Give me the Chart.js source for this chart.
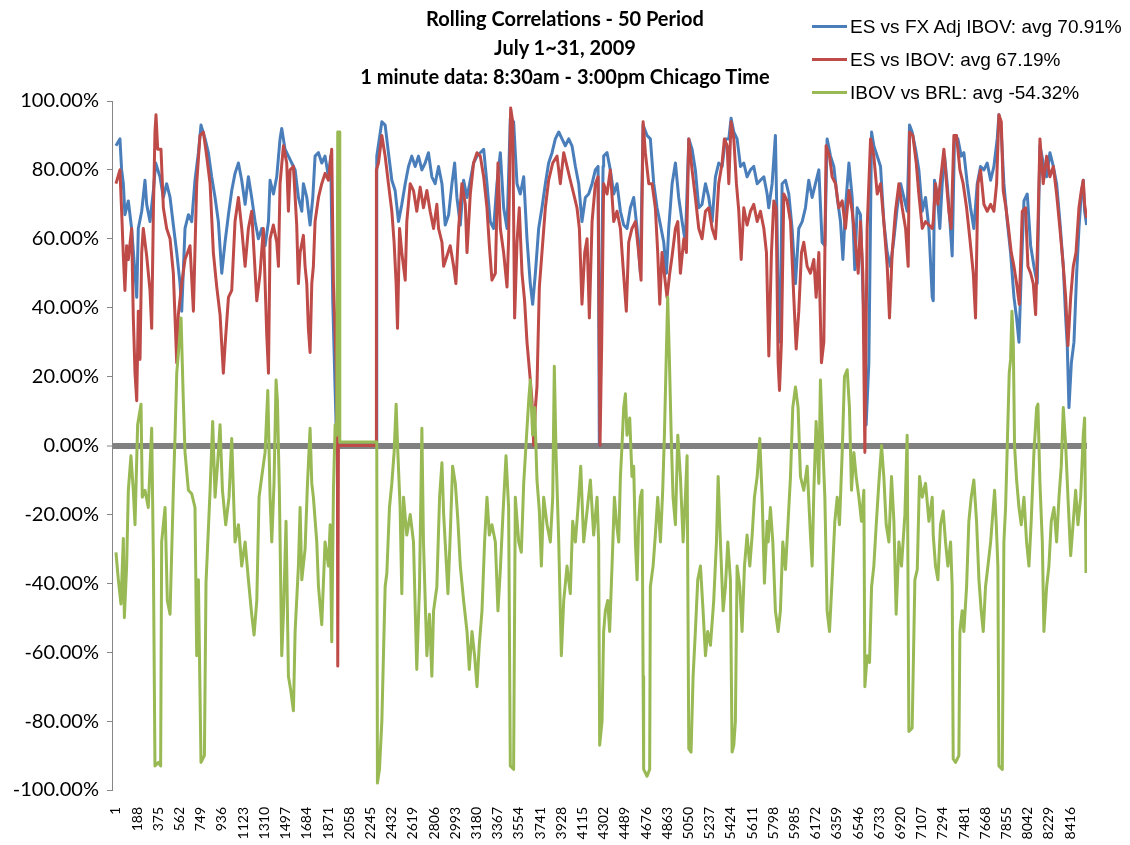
<!DOCTYPE html>
<html>
<head>
<meta charset="utf-8">
<title>Rolling Correlations - 50 Period</title>
<script src="https://cdn.jsdelivr.net/npm/chart.js@4.4.1/dist/chart.umd.min.js"></script>
<style>
  html, body { margin: 0; padding: 0; background: #fff; }
  #wrap { position: relative; width: 1130px; height: 845px; }
  #title {
    position: absolute; left: 0; top: 4px; width: 1130px;
    text-align: center; font-family: Lato; font-weight: bold;
    font-size: 20px; line-height: 29px; color: #000;
  }
  #legend { position: absolute; left: 812px; top: 10px; font-family: "Liberation Sans"; font-size: 19px; color: #000; }
  .item { display: flex; align-items: center; height: 33px; white-space: nowrap; }
  .swatch { width: 35px; height: 3px; margin-right: 3px; }
</style>
</head>
<body>
<div id="wrap">
  <canvas id="chart" width="1130" height="845"></canvas>
  <div id="title"></div>
  <div id="legend"></div>
</div>
<script>
// titles and series names
var titleLines = ['Rolling Correlations - 50 Period', 'July 1~31, 2009', '1 minute data: 8:30am - 3:00pm Chicago Time'];
var seriesNames = ['ES vs FX Adj IBOV: avg 70.91%', 'ES vs IBOV: avg 67.19%', 'IBOV vs BRL: avg -54.32%'];

// category labels shown on the x axis (every 187th minute)
var xTickLabels = [1, 188, 375, 562, 749, 936, 1123, 1310, 1497, 1684, 1871, 2058, 2245, 2432, 2619, 2806, 2993,
  3180, 3367, 3554, 3741, 3928, 4115, 4302, 4489, 4676, 4863, 5050, 5237, 5424, 5611, 5798, 5985, 6172,
  6359, 6546, 6733, 6920, 7107, 7294, 7481, 7668, 7855, 8042, 8229, 8416];
var lastMinute = 8565;

// ES vs FX Adj IBOV (in %)
var esFxIdx = [1,36,51,66,80,110,139,169,184,198,228,257,272,301,331,351,389,419,448,478,507,537,566,581,610,640,669,698,728,751,
  787,816,845,875,904,934,963,993,1022,1051,1081,1110,1140,1169,1198,1228,1257,1287,1316,1346,1360,1390,
  1419,1448,1463,1492,1522,1551,1581,1610,1640,1654,1684,1713,1737,1757,1787,1816,1845,1875,1895,1913,
  1934,1948,2296,2301,2346,2375,2404,2434,2463,2493,2522,2552,2581,2610,2640,2669,2699,2728,2757,2787,2816,2846,
  2876,2905,2935,2964,2988,3008,3038,3067,3097,3126,3155,3185,3214,3244,3273,3302,3332,3361,3391,3420,
  3450,3479,3508,3538,3567,3597,3626,3655,3676,3700,3729,3758,3788,3817,3847,3876,3906,3935,3964,3994,
  4023,4053,4082,4111,4141,4170,4200,4229,4253,4264,4279,4297,
  4302,4332,4361,4391,4420,4450,4479,4508,4538,4567,4597,4626,4650,4685,4714,4744,4773,4803,4832,4856,
  4876,4906,4935,4964,4994,5023,5053,5082,5111,5141,5170,5200,5229,5259,5288,5317,5347,5376,5406,5426,
  5450,5479,5509,5538,5567,5597,5626,5656,5685,5715,5744,
  5758,5788,5817,5832,5847,5861,5876,5906,5935,5964,5994,6023,6053,6082,6111,6141,6170,6200,6229,6253,
  6273,6303,6332,6362,6391,6412,6435,6465,6494,6517,6538,6567,6597,6617,6641,6665,6685,6715,6744,6773,
  6803,6832,6862,6891,6921,6950,6979,7000,7023,7053,7082,7112,7141,7171,7200,
  7209,7220,7244,7267,7288,7309,7332,7356,7376,7397,7426,7456,7479,7509,7538,7567,7597,7626,7656,7685,
  7715,7744,7773,7788,7809,7832,7862,7891,7921,7944,7965,7985,8009,8038,8068,8097,8126,8150,8179,8209,
  8238,8268,8297,8326,8356,8377,8391,8406,8427,8450,8474,8494,8515,8532,8544,8562];
var esFxVal = [87,89,80,76,67,71,63,50,43,63,68,77,70,65,74,82,78,72,76,72,64,56,47,39,63,67,65,77,85,93,
  89,85,78,72,65,50,59,67,74,79,82,77,70,78,72,65,60,63,58,65,77,73,
  78,89,92,86,84,82,80,72,68,76,72,64,72,84,85,82,84,78,84,42,
  16,0,0,84,94,93,85,77,74,65,70,76,81,84,81,84,80,82,85,78,76,81,
  76,64,67,76,82,72,64,77,72,77,82,84,85,86,76,65,63,76,85,69,
  63,95,94,76,73,78,60,47,41,50,63,69,76,82,85,89,91,89,87,89,
  87,81,76,65,72,73,76,80,81,0,37,81,
  84,85,80,73,76,68,64,63,69,72,63,50,93,90,89,76,69,64,59,50,
  63,76,82,72,65,59,89,86,80,69,70,76,72,65,78,82,81,89,89,95,
  91,89,81,82,78,80,81,76,77,78,73,
  69,76,90,63,30,37,76,77,73,63,47,63,65,69,77,72,76,80,59,58,
  89,84,81,72,65,54,69,82,72,51,69,67,37,6,24,91,87,84,81,65,
  56,52,60,69,76,72,68,93,91,86,80,68,72,63,43,
  42,77,73,63,76,84,76,65,55,90,89,84,85,76,69,63,76,81,80,82,
  77,81,89,96,91,76,65,56,43,37,30,50,71,73,58,52,47,87,82,78,
  85,81,76,65,52,37,29,11,24,30,50,63,73,77,68,64];

// ES vs IBOV
var esIbovIdx = [1,36,51,66,80,95,110,139,154,169,184,198,213,228,242,272,301,316,331,345,
  354,369,398,419,448,478,507,537,551,581,610,654,684,713,742,772,801,831,860,890,
  919,948,963,993,1022,1051,1081,1110,1140,1169,1198,1243,1272,1301,1331,1346,1360,
  1389,1419,1434,1448,1478,1507,1522,1537,1566,1595,1610,1625,1654,1669,1684,1698,1713,1728,1742,1757,
  1787,1816,1845,1875,1904,1919,1943,1954,1957,1963,2296,2298,2316,2346,2375,2404,2434,2454,2472,2484,
  2502,2522,2552,2566,2596,2625,2654,2684,2713,2743,2772,2802,2831,
  2846,2876,2891,2920,2949,2979,2999,3023,3052,3082,3097,3126,3155,3185,3214,3244,3273,3294,3317,3347,
  3370,3391,3420,3450,3464,3482,3500,3517,3538,3558,3582,3605,3626,3650,3670,3685,3700,3714,3735,3758,
  3788,3817,3853,3891,3920,3950,3979,4008,4038,4067,4088,4111,4135,4156,4176,4200,4229,4253,4270,4285,
  4302,4332,4361,4391,4420,4450,4473,4502,4523,4552,4582,4611,4632,4650,4670,4700,4729,4758,4779,4797,
  4817,4847,4861,4885,4906,4935,4956,4979,5009,5032,5053,5082,5111,5141,5170,5200,5229,5259,5288,5317,
  5347,5367,5391,5406,5426,5450,5473,5494,5515,5538,5567,5597,5626,5656,5685,5715,5738,5759,
  5782,5803,5823,5841,5853,5870,5891,5920,5950,5979,6000,6023,6047,6067,6097,6126,6156,6176,6200,6223,
  6244,6264,6294,6317,6347,6376,6406,6435,6465,6494,6523,6547,6567,6588,6606,6626,6656,6685,6715,6744,
  6773,6803,6823,6847,6876,6906,6935,6965,6988,7000,7029,7059,7082,7112,7141,7171,7200,
  7209,7229,7250,7273,7303,7326,7347,7367,7391,7414,7444,7473,7503,7532,7562,7582,7603,7626,7656,7685,
  7715,7744,7768,7788,7809,7826,7850,7873,7897,7921,7944,7968,7994,8023,8044,8068,8091,8112,8132,8150,
  8179,8209,8238,8268,8297,8326,8356,8377,8397,8421,8444,8468,8494,8515,8532,8544,8562];
var esIbovVal = [76,80,68,55,45,58,54,63,37,21,13,39,25,56,63,55,45,34,68,91,
  96,86,86,69,63,60,50,24,38,47,54,58,39,76,90,91,84,76,56,46,
  38,21,29,43,45,65,72,63,52,63,68,42,50,63,32,21,60,
  64,59,52,76,87,82,68,80,81,64,47,56,61,52,47,34,27,47,52,65,
  72,76,79,77,86,47,24,0,-64,0,0,80,82,90,84,76,68,59,47,34,
  63,56,48,65,76,74,68,75,69,74,68,63,70,
  63,59,52,55,58,52,47,63,76,70,56,73,82,85,84,78,69,58,48,50,
  82,63,56,46,60,98,94,37,59,69,50,42,30,21,13,0,11,17,46,56,
  69,77,82,84,76,85,81,77,73,69,63,41,56,60,37,65,76,78,0,30,
  76,73,80,65,68,63,52,39,59,63,65,56,48,94,85,76,76,69,56,41,
  56,47,43,50,55,63,65,50,60,56,89,80,72,63,60,68,69,63,60,76,
  82,89,87,76,94,89,76,68,54,69,64,68,70,65,68,63,56,26,
  56,71,69,24,16,30,73,71,65,43,28,39,56,59,52,50,54,43,56,24,
  30,87,84,78,76,69,71,63,74,68,59,50,65,50,-2,63,89,84,73,76,
  65,52,37,56,68,76,69,63,52,91,90,82,73,63,65,64,63,
  65,76,70,77,86,76,68,63,90,90,80,76,69,60,50,37,76,80,70,68,
  70,68,76,96,94,74,69,63,56,52,47,41,68,69,52,50,47,38,63,89,
  76,84,78,81,73,63,52,43,29,43,52,56,69,74,77,70,66];

// IBOV vs BRL
var ibovBrlIdx = [1,22,45,66,75,95,110,133,154,169,192,222,233,257,286,316,331,345,375,395,
  404,434,454,478,507,522,537,557,575,595,610,640,669,698,713,728,751,781,795,831,
  854,875,898,919,940,969,998,1022,1051,1081,1110,1140,1169,1198,1219,1243,1263,1287,1316,1340,1360,
  1375,1395,1413,1425,1442,1463,1478,1501,1522,1542,1566,1581,1610,1625,1640,1669,1690,1713,1728,1742,
  1772,1787,1816,1845,1875,1890,1904,1919,1934,1948,1957,1969,1975,2301,2307,2325,2346,2360,2375,2390,
  2413,2434,2454,2472,2487,2507,2522,2537,2566,2596,2625,2654,2678,2699,2713,2743,2766,2787,2802,2831,2855,
  2876,2891,2911,2929,2949,2970,2994,3017,3038,3067,3097,3117,3141,3164,3185,3205,3229,3252,3273,3294,
  3317,3347,3370,3391,3414,3441,3464,3479,3508,3523,3553,3576,3597,3617,3641,3655,3676,3694,3714,3735,
  3753,3773,3803,3832,3853,3867,3882,3906,3929,3950,3979,4008,4029,4053,4076,4100,4126,4156,4185,4214,
  4244,4258,4267,4288,
  4302,4317,4338,4355,4376,4397,4414,4435,4450,4464,4479,4494,4508,4532,4552,4567,4582,4597,4611,4626,
  4641,4650,4655,4685,4708,4714,4738,4758,4779,4803,4823,4838,4853,4867,4882,4897,4914,4935,4956,4979,
  5003,5023,5038,5053,5073,5091,5111,5132,5156,5179,5200,5220,5244,5273,5297,5312,5332,5356,5376,5397,
  5420,5435,5450,5464,5479,5503,5523,5544,5567,5591,5612,5632,5656,5679,5700,5720,5744,
  5753,5773,5794,5817,5841,5861,5882,5906,5929,5950,5970,5994,6017,6038,6067,6097,6126,6141,6156,6176,
  6200,6214,6235,6253,6273,6294,6317,6341,6362,6382,6406,6426,6450,6470,6488,6509,6529,6553,6576,6597,
  6606,6626,6647,6665,6685,6706,6729,6753,6773,6794,6818,6841,6862,6882,6906,6929,6959,6979,6994,7023,
  7047,7068,7088,7112,7141,7171,7200,
  7209,7229,7250,7273,7297,7317,7338,7362,7376,7385,7406,7435,7444,7464,7479,7503,7523,7544,7567,7591,
  7612,7632,7650,7670,7691,7715,7729,7750,7765,7779,7788,7818,7832,7847,7862,7879,7891,7903,7915,7926,
  7944,7965,7985,8009,8032,8053,8073,8097,8121,8132,8150,8171,8185,8209,8229,8250,8274,8297,8318,8338,
  8356,8377,8397,8421,8444,8465,8485,8509,8532,8544,8556];
var ibovBrlVal = [-31,-39,-46,-27,-50,-35,-13,-3,-13,-23,6,12,-15,-13,-18,5,-33,-93,-92,-93,
  -28,-18,-45,-49,-13,3,21,29,37,13,-2,-13,-14,-18,-61,-39,-92,-90,-40,-13,
  7,-15,-5,6,-13,-23,-15,2,-28,-23,-35,-28,-39,-49,-55,-45,-15,-9,-2,16,-15,
  -28,-11,19,13,-13,-61,-49,-22,-67,-71,-77,-54,-35,-18,-39,-30,-11,5,-11,-15,
  -28,-41,-52,-28,-35,-23,-57,-13,6,3,91,91,1,1,-98,-94,-80,-61,-41,-37,
  -18,-11,-2,12,-2,-18,-43,-15,-26,-20,-28,-65,-41,5,-28,-61,-49,-67,-48,-41,-15,
  -5,-20,-32,-43,-26,-6,-11,-22,-35,-45,-54,-65,-54,-61,-70,-58,-48,-28,-15,-26,
  -23,-28,-48,-36,-20,-3,-18,-93,-94,-15,-28,-31,-11,0,13,19,3,11,-10,-19,
  -35,-15,-23,-28,-15,23,-2,-28,-61,-45,-35,-43,-22,-28,-18,-6,-28,-19,-10,-26,
  -15,-28,-87,-80,
  -54,-48,-45,-54,-35,-15,-22,-28,-9,0,11,15,3,8,-9,-6,-28,-39,-22,-15,
  -13,-67,-94,-96,-94,-41,-35,-26,-15,-28,-13,3,24,43,25,4,-15,-23,3,-9,
  -28,-15,-3,-88,-89,-67,-54,-39,-35,-48,-61,-54,-58,-45,-28,-9,-28,-48,-41,-28,
  -39,-89,-87,-80,-35,-41,-54,-35,-26,-35,-26,-15,-9,2,-15,-40,-22,
  -28,-18,-28,-48,-54,-48,-28,-36,-22,-9,11,17,11,-9,-13,-6,-26,-35,-13,7,
  -11,19,0,-15,-48,-54,-39,-22,-15,-23,-2,20,22,11,-13,-2,-9,-15,-22,-13,
  -70,-61,-63,-41,-35,-23,-11,0,-9,-23,-28,-9,-22,-49,-28,-35,-20,3,-83,-82,
  -39,-36,-9,-15,-11,-22,-15,
  -26,-35,-39,-23,-19,-28,-35,-28,-41,-91,-92,-90,-54,-48,-54,-41,-22,-15,-10,-22,
  -39,-48,-54,-41,-35,-28,-22,-13,-23,-35,-93,-94,-28,-18,0,21,25,39,30,0,
  -10,-18,-23,-15,-28,-35,-22,-2,11,12,-11,-28,-54,-41,-35,-22,-18,-28,-15,-6,
  11,0,-15,-32,-22,-13,-23,-15,3,8,-37];

var seriesColors = ['#4A7EBB', '#BE4B48', '#98B954'];

function toPoints(idx, vals) {
  return idx.map(function (x, i) { return { x: x, y: vals[i] }; });
}

// title and legend as page text
document.getElementById('title').innerHTML = titleLines.join('<br>');
var legendBox = document.getElementById('legend');
seriesNames.forEach(function (name, i) {
  var row = document.createElement('div');
  row.className = 'item';
  var sw = document.createElement('span');
  sw.className = 'swatch';
  sw.style.background = seriesColors[i];
  var label = document.createElement('span');
  label.textContent = name;
  row.appendChild(sw);
  row.appendChild(label);
  legendBox.appendChild(row);
});

var ctx = document.getElementById('chart').getContext('2d');
var chart = new Chart(ctx, {
  type: 'line',
  data: {
    datasets: [
      { label: seriesNames[0], data: toPoints(esFxIdx, esFxVal), borderColor: seriesColors[0], order: 2 },
      { label: seriesNames[1], data: toPoints(esIbovIdx, esIbovVal), borderColor: seriesColors[1], order: 1 },
      { label: seriesNames[2], data: toPoints(ibovBrlIdx, ibovBrlVal), borderColor: seriesColors[2], order: 0 }
    ]
  },
  options: {
    responsive: false,
    animation: false,
    devicePixelRatio: 1,
    layout: { padding: { top: 101, right: 43, left: 0, bottom: 0 } },
    elements: {
      point: { radius: 0 },
      line: { borderWidth: 3, tension: 0, fill: false, borderJoinStyle: 'round' }
    },
    plugins: {
      legend: { display: false },
      title: { display: false },
      tooltip: { enabled: false }
    },
    scales: {
      x: {
        type: 'linear',
        min: -34,
        max: lastMinute,
        grid: { display: false, drawTicks: false },
        border: { display: false },
        afterBuildTicks: function (scale) {
          scale.ticks = xTickLabels.map(function (v) { return { value: v }; });
        },
        afterFit: function (scale) { scale.height = 55; },
        ticks: {
          autoSkip: false,
          minRotation: 90,
          maxRotation: 90,
          padding: 17,
          color: '#000',
          font: { family: 'Lato', size: 14 },
          callback: function (v) { return String(v); }
        }
      },
      y: {
        min: -100,
        max: 100,
        afterFit: function (scale) { scale.width = 112; },
        ticks: {
          stepSize: 20,
          padding: 8,
          color: '#000',
          font: { family: 'Lato', size: 20 },
          callback: function (v) { return v.toFixed(2) + '%'; }
        },
        grid: {
          color: function (c) { return c.tick && c.tick.value === 0 ? '#808080' : 'rgba(0,0,0,0)'; },
          lineWidth: function (c) { return c.tick && c.tick.value === 0 ? 6 : 1; },
          tickColor: '#868686',
          tickLength: 5,
          tickWidth: 1
        },
        border: { display: true, color: '#868686', width: 1 }
      }
    }
  }
});
</script>
</body>
</html>
